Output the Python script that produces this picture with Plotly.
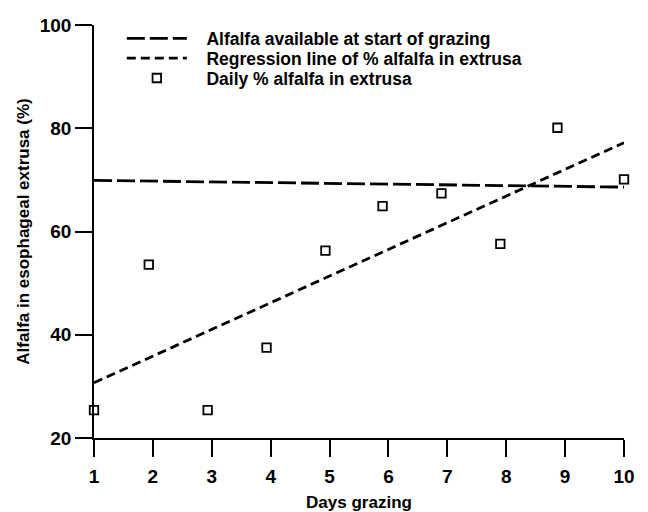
import plotly.graph_objects as go

days = [1, 1.93, 2.93, 3.93, 4.93, 5.9, 6.9, 7.9, 8.87, 10]
daily_pct = [25.4, 53.6, 25.4, 37.5, 56.3, 64.9, 67.4, 57.6, 80.1, 70.1]

avail_x = [1, 10]
avail_y = [69.9, 68.6]

regr_x = [1, 10]
regr_y = [30.7, 77.2]

x_ticks = [1, 2, 3, 4, 5, 6, 7, 8, 9, 10]
y_ticks = [20, 40, 60, 80, 100]

names = [
    "Alfalfa available at start of grazing",
    "Regression line of % alfalfa in extrusa",
    "Daily % alfalfa in extrusa",
]

FONT = "Liberation Sans"
NB = "\u00a0\u00a0\u00a0"

fig = go.Figure()
fig.add_trace(go.Scatter(
    x=avail_x, y=avail_y, mode="lines",
    name=NB + names[0], legend="legend",
    line=dict(color="black", width=2.8, dash="18px,5px"),
    cliponaxis=False,
))
fig.add_trace(go.Scatter(
    x=regr_x, y=regr_y, mode="lines",
    name=NB + names[1], legend="legend2",
    line=dict(color="black", width=2.8, dash="9px,5px"),
    cliponaxis=False,
))
fig.add_trace(go.Scatter(
    x=days, y=daily_pct, mode="markers",
    name=NB + names[2], legend="legend3",
    marker=dict(symbol="square-open", size=8.5, color="black",
                line=dict(width=1.8, color="black")),
    cliponaxis=False,
))

leg_common = dict(
    x=0.0525, xanchor="left", yanchor="middle",
    bgcolor="rgba(0,0,0,0)", borderwidth=0, itemwidth=60,
    font=dict(family=FONT, size=17.5, weight="bold", color="black"),
)

# The page body adds an 8px offset, so the figure is drawn 8px smaller
fig.update_layout(
    width=640, height=504,
    margin=dict(l=86, r=24, t=14, b=74),
    paper_bgcolor="white", plot_bgcolor="white",
    font=dict(family=FONT, color="black", size=17, weight="bold"),
    showlegend=True,
    legend=dict(y=0.9675, **leg_common),
    legend2=dict(y=0.9195, **leg_common),
    legend3=dict(y=0.8714, **leg_common),
    xaxis=dict(
        range=[1, 10], tickvals=x_ticks, ticktext=[str(v) for v in x_ticks],
        showline=True, linecolor="black", linewidth=1.5,
        ticks="outside", ticklen=17, tickwidth=1.5, tickcolor="black",
        showgrid=False, zeroline=False, ticklabelstandoff=3,
        tickfont=dict(family=FONT, size=19, weight="bold"),
        automargin=False,
        title=dict(text="Days grazing", font=dict(family=FONT, size=17, weight="bold"), standoff=11),
    ),
    yaxis=dict(
        range=[20, 100], tickvals=y_ticks, ticktext=[str(v) for v in y_ticks],
        showline=True, linecolor="black", linewidth=1.5,
        ticks="outside", ticklen=17, tickwidth=1.5, tickcolor="black",
        showgrid=False, zeroline=False, ticklabelstandoff=0,
        tickfont=dict(family=FONT, size=19, weight="bold"),
        automargin=False,
        title=dict(text="Alfalfa in esophageal extrusa (%)", font=dict(family=FONT, size=17, weight="bold"), standoff=6),
    ),
)

fig.write_html("out.html")
